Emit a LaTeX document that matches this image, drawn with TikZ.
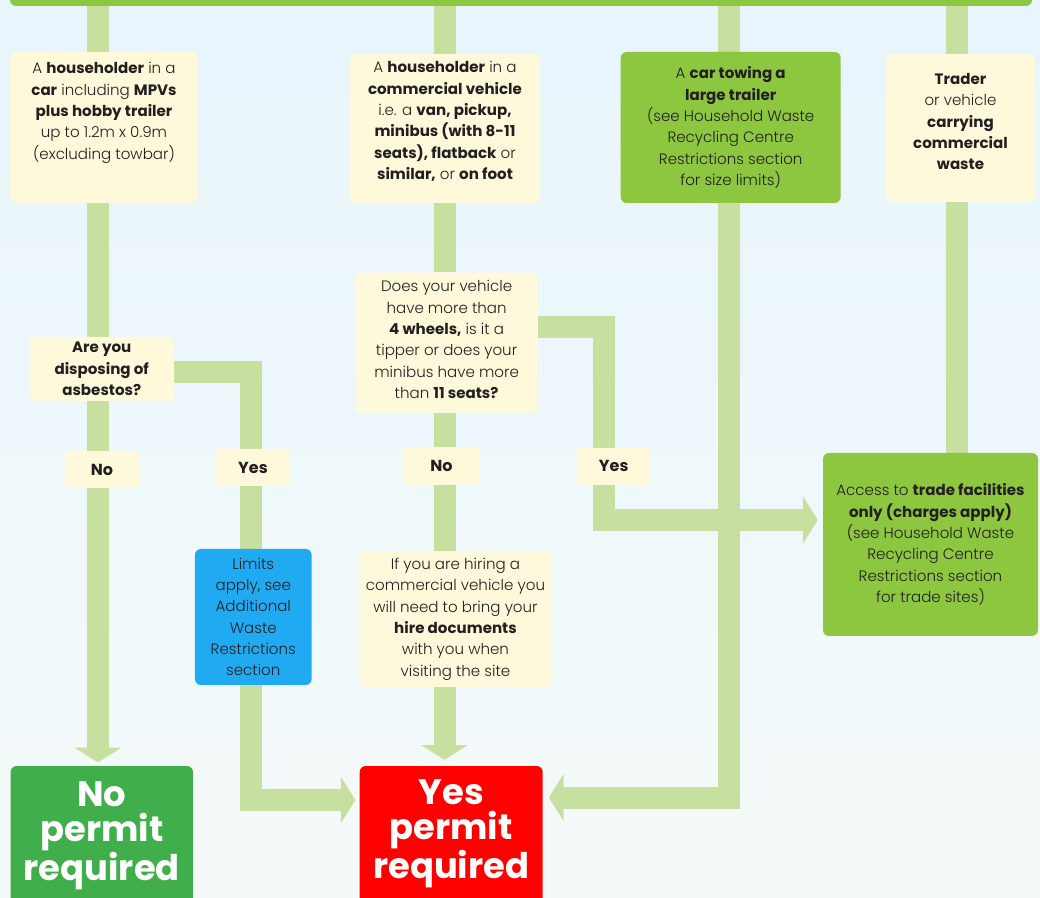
\documentclass[tikz,border=0pt]{standalone}
\usepackage{fontspec}
\setmainfont{Poppins}[UprightFont={* Light},BoldFont={* Bold}]
\usetikzlibrary{arrows.meta,calc}
\definecolor{bgtop}{HTML}{E8F5FC}
\definecolor{bgbot}{HTML}{F5FAF9}
\definecolor{barg}{HTML}{8DC63F}
\definecolor{stemc}{HTML}{C7E09F}
\definecolor{creamc}{HTML}{FDF9DA}
\definecolor{blueb}{HTML}{20AAF2}
\definecolor{nogreen}{HTML}{40AE4A}
\definecolor{yesred}{HTML}{FF0000}
\definecolor{ink}{HTML}{231F20}
\pgfdeclarelayer{back}
\pgfdeclarelayer{bg}
\pgfsetlayers{back,bg,main}
\newcommand{\bxt}[4]{\begin{minipage}[c][#2][c]{#1}\centering\fontsize{11.3}{16}\selectfont #4\par\vspace{#3}\end{minipage}}
\newcommand{\bigt}[4]{\begin{minipage}[c][#2][c]{#1}\centering\fontsize{26.5}{26.3}\selectfont\bfseries #4\par\vspace{#3}\end{minipage}}
\tikzset{
  stem/.style={draw=stemc, line width=16.5pt, line join=miter},
  tipd/.style={-{Triangle[width=34.5pt,length=11pt]}},
  bx/.style={inner sep=0pt, rounded corners=4.5pt, text=ink},
  cream/.style={bx, fill=creamc},
  greenbox/.style={bx, fill=barg},
  lbl/.style={inner sep=0pt, rounded corners=1.5pt, fill=creamc, text=ink, font=\fontsize{12}{14}\selectfont\bfseries},
}
\begin{document}
\begin{tikzpicture}[x=0.75pt,y=-0.75pt]
\useasboundingbox (0,0) rectangle (1040,898);
\begin{pgfonlayer}{back}
\shade[top color=bgtop, bottom color=bgbot] (0,0) rectangle (1040,898);
\end{pgfonlayer}

% column x positions and y levels
\coordinate (c1) at (98,0);
\coordinate (cy1) at (251,0);
\coordinate (c2) at (444.5,0);
\coordinate (cy2) at (604,0);
\coordinate (c3) at (729,0);
\coordinate (c4) at (957,0);
\coordinate (yE) at (0,372.5);
\coordinate (yF) at (0,327);
\coordinate (yD) at (0,520);
\coordinate (yB) at (0,800);
\coordinate (yC) at (0,797.5);

% top bar
\node[fill=barg, inner sep=0pt, minimum width=766.5pt, minimum height=15pt, rounded corners=4.5pt] (bar) at (521,-4) {};

% first row
\node[cream] (b1) at (104,127.5) {\bxt{141pt}{113.25pt}{22pt}{A \textbf{householder} in a\\ \textbf{car} including \textbf{MPVs}\\ \textbf{plus hobby trailer}\\ up to 1.2m x 0.9m\\ (excluding towbar)}};
\node[cream] (b2) at (445,128.5) {\bxt{142.5pt}{111.75pt}{10.5pt}{A \textbf{householder} in a\\ \textbf{commercial vehicle}\\ i.e. a \textbf{van, pickup,}\\ \textbf{minibus (with 8-11}\\ \textbf{seats), flatback} or\\ \textbf{similar,} or \textbf{on foot}}};
\node[greenbox] (b3) at (730.7,127.5) {\bxt{165pt}{113.25pt}{0pt}{A \textbf{car towing a}\\ \textbf{large trailer}\\ (see Household Waste\\ Recycling Centre\\ Restrictions section\\ for size limits)}};
\node[cream] (b4) at (960.5,128) {\bxt{111.75pt}{111pt}{9.75pt}{\textbf{Trader}\\ or vehicle\\ \textbf{carrying}\\ \textbf{commercial}\\ \textbf{waste}}};

% questions
\node[cream, rounded corners=2pt] (asb) at (101.75,369) {\bxt{108.4pt}{48pt}{0pt}{\textbf{Are you}\\ \textbf{disposing of}\\ \textbf{asbestos?}}};
\node[cream] (q2) at (446.6,342.7) {\bxt{136.5pt}{105pt}{4.5pt}{Does your vehicle\\ have more than\\ \textbf{4 wheels,} is it a\\ tipper or does your\\ minibus have more\\ than \textbf{11 seats?}}};

% yes / no labels
\node[lbl, minimum width=55.5pt, minimum height=27.75pt] (no1) at (102,469.5) {No};
\node[lbl, minimum width=55.5pt, minimum height=27.75pt] (yes1) at (253,467.5) {Yes};
\node[lbl, minimum width=56.25pt, minimum height=28.5pt] (no2) at (441.5,466) {No};
\node[lbl, minimum width=55pt, minimum height=27.75pt] (yes2) at (613.7,466.4) {Yes};

% outcomes
\node[greenbox] (trade) at (930.5,544.5) {\bxt{161.25pt}{137.25pt}{0pt}{Access to \textbf{trade facilities}\\ \textbf{only (charges apply)}\\ (see Household Waste\\ Recycling Centre\\ Restrictions section\\ for trade sites)}};
\node[bx, fill=blueb] (blue) at (253.3,617) {\bxt{87.5pt}{102pt}{0pt}{Limits\\ apply, see\\ Additional\\ Waste\\ Restrictions\\ section}};
\node[cream] (hire) at (455.5,619.3) {\bxt{143.25pt}{101.5pt}{0pt}{If you are hiring a\\ commercial vehicle you\\ will need to bring your\\ \textbf{hire documents}\\ with you when\\ visiting the site}};
\node[bx, fill=yesred, text=white] (yp) at (451.2,838) {\bigt{137.25pt}{108pt}{6pt}{Yes\\ permit\\ required}};
\node[bx, fill=nogreen, text=white] (np) at (101.85,838) {\bigt{136.7pt}{108pt}{3pt}{No\\ permit\\ required}};

% connectors
\begin{pgfonlayer}{bg}
\draw[stem] (c1 |- bar.south) -- (c1 |- b1.north);
\draw[stem] (c2 |- bar.south) -- (c2 |- b2.north);
\draw[stem] (c3 |- bar.south) -- (c3 |- b3.north);
\draw[stem] (c4 |- bar.south) -- (c4 |- b4.north);
\draw[stem] (c1 |- b1.south) -- (c1 |- asb.north);
\draw[stem] (c1 |- asb.south) -- (c1 |- no1.north);
\draw[stem, tipd, shorten >=2.5pt] (c1 |- no1.south) -- (c1 |- np.north);
\draw[stem] (asb.east |- yE) -| (cy1 |- yes1.north);
\draw[stem] (cy1 |- yes1.south) -- (cy1 |- blue.north);
\draw[stem, tipd, shorten >=3pt] (cy1 |- blue.south) |- (yp.west |- yB);
\draw[stem] (c2 |- b2.south) -- (c2 |- q2.north);
\draw[stem] (c2 |- q2.south) -- (c2 |- no2.north);
\draw[stem] (c2 |- no2.south) -- (c2 |- hire.north);
\draw[stem, tipd, shorten >=4.5pt] (c2 |- hire.south) -- (c2 |- yp.north);
\draw[stem] (q2.east |- yF) -| (cy2 |- yes2.north);
\draw[stem, tipd, shorten >=3.75pt] (cy2 |- yes2.south) |- (trade.west |- yD);
\draw[stem, tipd, shorten >=4.4pt] (c3 |- b3.south) |- (yp.east |- yC);
\draw[stem] (c4 |- b4.south) -- (c4 |- trade.north);
\end{pgfonlayer}
\end{tikzpicture}
\end{document}
